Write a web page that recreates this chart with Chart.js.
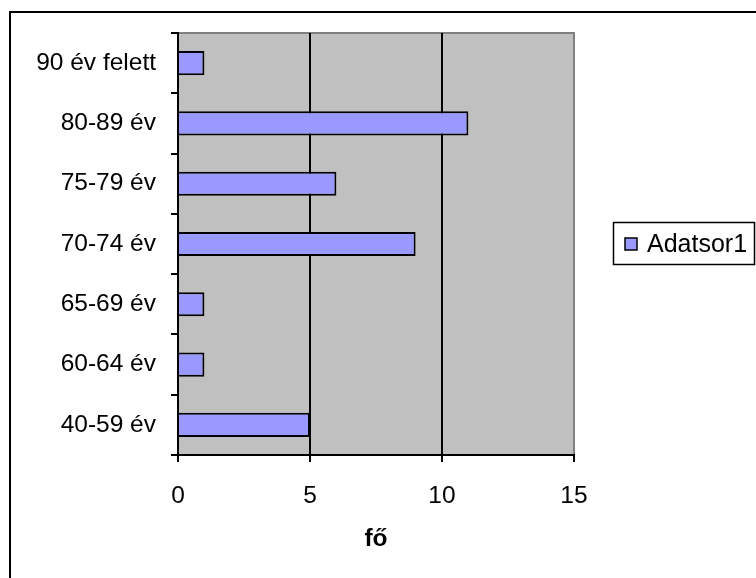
<!DOCTYPE html>
<html>
<head>
<meta charset="utf-8">
<script src="https://cdn.jsdelivr.net/npm/chart.js@4"></script>
<style>
  html, body { margin: 0; padding: 0; background: #fff; }
  #wrap { width: 756px; height: 578px; position: relative; }
</style>
</head>
<body>
<div id="wrap"><canvas id="korChart" width="756" height="578"></canvas></div>
<script>
const korcsoportok = ['40-59 év', '60-64 év', '65-69 év', '70-74 év', '75-79 év', '80-89 év', '90 év felett'];
const adatsor1 = [5, 1, 1, 9, 6, 11, 1];
const xTicks = [0, 5, 10, 15];
const sorozatNev = 'Adatsor1';
const tengelyCim = 'fő';

const FONT = '"Liberation Sans", Arial, sans-serif';

// gray plot area, outer frame and the boxed legend
const excelLook = {
    id: 'excelLook',
    beforeDraw(chart) {
        const ctx = chart.ctx;
        const a = chart.chartArea;
        ctx.save();
        ctx.fillStyle = '#fff';
        ctx.fillRect(0, 0, chart.width, chart.height);
        ctx.fillStyle = '#c0c0c0';
        ctx.fillRect(a.left, a.top, a.right - a.left, a.bottom - a.top);
        ctx.strokeStyle = '#808080';
        ctx.lineWidth = 2;
        ctx.beginPath();
        ctx.moveTo(a.left, a.top);
        ctx.lineTo(a.right, a.top);
        ctx.lineTo(a.right, a.bottom);
        ctx.stroke();
        ctx.restore();
    },
    afterDraw(chart) {
        const ctx = chart.ctx;
        const ds = chart.data.datasets[0];
        ctx.save();
        // outer frame
        ctx.strokeStyle = '#000';
        ctx.lineWidth = 2;
        ctx.strokeRect(10, 12, chart.width + 10, chart.height + 10);
        // legend
        ctx.lineWidth = 1.5;
        ctx.strokeRect(613.5, 222.5, 141, 42);
        ctx.fillStyle = ds.backgroundColor;
        ctx.fillRect(625, 238, 12, 12);
        ctx.lineWidth = 1.5;
        ctx.strokeRect(625, 238, 12, 12);
        ctx.fillStyle = '#000';
        ctx.font = '25px ' + FONT;
        ctx.textBaseline = 'middle';
        ctx.fillText(ds.label, 647, 245);
        ctx.restore();
    }
};

new Chart(document.getElementById('korChart'), {
    type: 'bar',
    data: {
        labels: korcsoportok,
        datasets: [{
            label: sorozatNev,
            data: adatsor1,
            backgroundColor: '#9999ff',
            borderColor: '#000',
            borderWidth: 2,
            barPercentage: 0.4,
            categoryPercentage: 1
        }]
    },
    options: {
        indexAxis: 'y',
        responsive: false,
        animation: false,
        layout: { padding: { top: 33, right: 182, bottom: 0, left: 0 } },
        plugins: {
            legend: { display: false },
            tooltip: { enabled: false }
        },
        scales: {
            x: {
                min: 0,
                max: 15,
                afterBuildTicks: (scale) => { scale.ticks = xTicks.map(v => ({ value: v })); },
                afterFit: (scale) => { scale.height = 123; },
                border: { color: '#000', width: 2 },
                grid: {
                    color: (c) => c.tick && c.tick.value === 15 ? '#808080' : '#000',
                    lineWidth: 2,
                    tickColor: '#000',
                    tickLength: 7
                },
                ticks: { color: '#000', padding: 20, font: { family: FONT, size: 24.5 } },
                title: {
                    display: true,
                    text: tengelyCim,
                    color: '#000',
                    padding: { top: 0, bottom: 24 },
                    font: { family: FONT, size: 24.5, weight: 'bold' }
                }
            },
            y: {
                reverse: true,
                afterFit: (scale) => { scale.width = 178; },
                border: { color: '#000', width: 2 },
                grid: {
                    offset: true,
                    drawOnChartArea: false,
                    color: '#000',
                    lineWidth: 2,
                    tickLength: 7
                },
                ticks: { color: '#000', padding: 15, font: { family: FONT, size: 24.5 } }
            }
        }
    },
    plugins: [excelLook]
});
</script>
</body>
</html>
